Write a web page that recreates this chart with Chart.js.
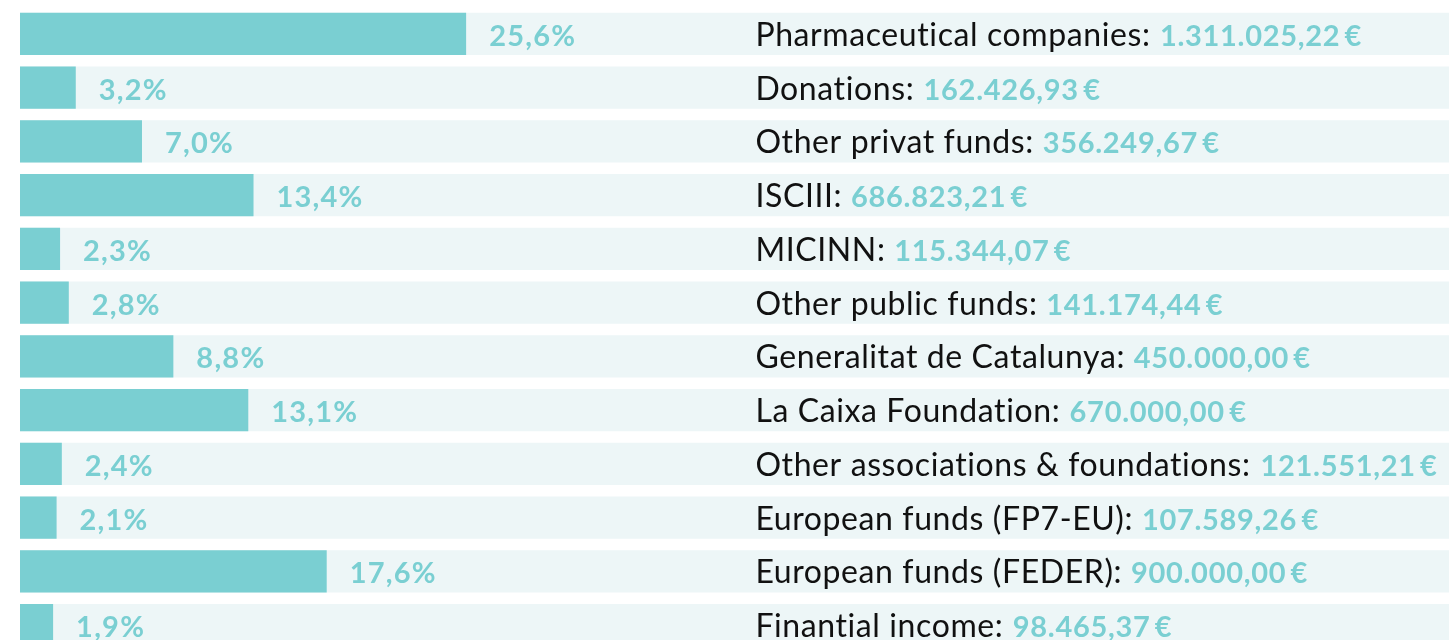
<!DOCTYPE html>
<html>
<head>
<meta charset="utf-8">
<script src="https://cdn.jsdelivr.net/npm/chart.js@4"></script>
<style>
  html, body { margin: 0; padding: 0; background: #ffffff; overflow: hidden; }
  #wrap { position: absolute; left: 0; top: 0; width: 1449px; height: 652px; }
</style>
</head>
<body>
<div id="wrap"><canvas id="c"></canvas></div>
<script>
const categories = ["Pharmaceutical companies", "Donations", "Other privat funds", "ISCIII", "MICINN", "Other public funds", "Generalitat de Catalunya", "La Caixa Foundation", "Other associations & foundations", "European funds (FP7-EU)", "European funds (FEDER)", "Finantial income"];
const percents = [25.6, 3.2, 7.0, 13.4, 2.3, 2.8, 8.8, 13.1, 2.4, 2.1, 17.6, 1.9];
const amounts = ["1.311.025,22", "162.426,93", "356.249,67", "686.823,21", "115.344,07", "141.174,44", "450.000,00", "670.000,00", "121.551,21", "107.589,26", "900.000,00", "98.465,37"];
const axisMax = 82;

const TEAL = "#7acfd2";
const BG = "#edf6f7";

function spacedWidth(ctx, text, sp) {
  // measure text width without relying on letterSpacing support in measureText
  const old = ctx.letterSpacing;
  ctx.letterSpacing = "0px";
  const w = ctx.measureText(text).width;
  ctx.letterSpacing = old;
  return w + sp * text.length;
}

const labelPlugin = {
  id: "labels",
  afterDatasetsDraw(chart) {
    const ctx = chart.ctx;
    const meta = chart.getDatasetMeta(0);
    const xs = chart.scales.x;
    ctx.save();
    ctx.textBaseline = "alphabetic";
    ctx.textAlign = "left";
    meta.data.forEach((bar, i) => {
      const y = bar.y + 12;
      // percent label
      ctx.font = "bold 29px Lato";
      ctx.letterSpacing = "1.2px";
      ctx.fillStyle = TEAL;
      ctx.fillText(percents[i].toFixed(1).replace(".", ",") + "%", bar.x + 23, y);
      // right label
      const tx = xs.getPixelForValue(42.2);
      ctx.font = "32px Lato";
      ctx.letterSpacing = "0.6px";
      ctx.fillStyle = "#111111";
      const name = categories[i] + ": ";
      ctx.fillText(name, tx, y);
      const w = spacedWidth(ctx, name, 0.6);
      ctx.font = "bold 29px Lato";
      ctx.letterSpacing = "0.7px";
      ctx.fillStyle = TEAL;
      ctx.fillText(amounts[i] + "\u2009€", tx + w, y);
    });
    ctx.restore();
  }
};

new Chart(document.getElementById("c"), {
  type: "bar",
  data: {
    labels: categories,
    datasets: [
      {
        data: percents,
        backgroundColor: TEAL,
        order: 0,
        grouped: false,
        barPercentage: 0.782,
        categoryPercentage: 1
      },
      {
        data: categories.map(() => axisMax),
        backgroundColor: BG,
        order: 1,
        grouped: false,
        barPercentage: 0.782,
        categoryPercentage: 1
      }
    ]
  },
  options: {
    indexAxis: "y",
    responsive: true,
    maintainAspectRatio: false,
    animation: false,
    layout: { padding: { left: 20, right: 0, top: 7, bottom: 0 } },
    plugins: { legend: { display: false }, tooltip: { enabled: false } },
    scales: {
      x: { display: false, min: 0, max: axisMax },
      y: { display: false }
    }
  },
  plugins: [labelPlugin]
});
</script>
</body>
</html>
